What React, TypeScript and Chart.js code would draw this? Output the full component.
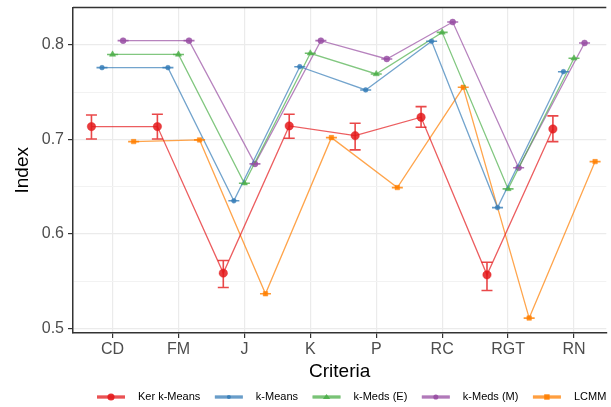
import React, { useEffect, useRef } from 'react';
import { Chart, registerables } from 'chart.js';

Chart.register(...registerables);

const FONT = '"Liberation Sans", Arial, Helvetica, sans-serif';

// ---- data ----
const categories = ['CD', 'FM', 'J', 'K', 'P', 'RC', 'RGT', 'RN'];
const seriesNames = ['Ker k-Means', 'k-Means', 'k-Meds (E)', 'k-Meds (M)', 'LCMM'];

const kerKMeans = [0.7136, 0.7136, 0.5584, 0.7143, 0.704, 0.7235, 0.5566, 0.7111];
const kerKMeansLow = [0.7005, 0.7005, 0.5432, 0.7013, 0.6889, 0.7129, 0.540, 0.6977];
const kerKMeansHigh = [0.7259, 0.7267, 0.5717, 0.7267, 0.7171, 0.7347, 0.570, 0.7249];
const kMeans = [0.776, 0.776, 0.635, 0.777, 0.7524, 0.8039, 0.6278, 0.7717];
const kMedsE = [0.790, 0.790, 0.6536, 0.7912, 0.7693, 0.8134, 0.6476, 0.7859];
const kMedsM = [0.8046, 0.8046, 0.6741, 0.8046, 0.7852, 0.8243, 0.670, 0.8021];
const lcmm = [0.6977, 0.6995, 0.5365, 0.7019, 0.649, 0.7552, 0.5108, 0.6765];

const yTicks = [0.5, 0.55, 0.6, 0.65, 0.7, 0.75, 0.8];

// ---- styling ----
const seriesValues = [kerKMeans, kMeans, kMedsE, kMedsM, lcmm];
const seriesLows = [kerKMeansLow, kMeans, kMedsE, kMedsM, lcmm];
const seriesHighs = [kerKMeansHigh, kMeans, kMedsE, kMedsM, lcmm];
const rgb = ['228,26,28', '55,126,184', '77,175,74', '152,78,163', '255,127,0'];
const pointStyles = ['circle', 'circle', 'triangle', 'circle', 'rect'];
const pointRadii = [4.2, 2.4, 3.6, 3, 3.2];
const dodge = [-0.32, -0.16, 0, 0.16, 0.32];

const isMajor = (v: number) => Math.abs(v * 10 - Math.round(v * 10)) < 1e-6;

function drawMarker(ctx: CanvasRenderingContext2D, style: string, r: number, x: number, y: number) {
  ctx.beginPath();
  if (style === 'circle') {
    ctx.arc(x, y, r, 0, Math.PI * 2);
  } else if (style === 'triangle') {
    const h = r * 1.5;
    ctx.moveTo(x, y - h * 0.66);
    ctx.lineTo(x + r * 1.2, y + h * 0.45);
    ctx.lineTo(x - r * 1.2, y + h * 0.45);
    ctx.closePath();
  } else {
    ctx.rect(x - r, y - r, r * 2, r * 2);
  }
  ctx.fill();
}

const errorBarPlugin = {
  id: 'errorBars',
  afterDatasetsDraw(chart: any) {
    const { ctx, scales } = chart;
    const xs = scales.x;
    const ys = scales.y;
    ctx.save();
    chart.data.datasets.forEach((ds: any, i: number) => {
      ctx.strokeStyle = `rgba(${rgb[i]},0.8)`;
      ctx.lineWidth = 1.6;
      ds.data.forEach((p: any, j: number) => {
        const px = xs.getPixelForValue(p.x);
        const yl = ys.getPixelForValue(seriesLows[i][j]);
        const yh = ys.getPixelForValue(seriesHighs[i][j]);
        const w = 5.5;
        ctx.beginPath();
        ctx.moveTo(px, yl);
        ctx.lineTo(px, yh);
        ctx.moveTo(px - w, yl);
        ctx.lineTo(px + w, yl);
        ctx.moveTo(px - w, yh);
        ctx.lineTo(px + w, yh);
        ctx.stroke();
      });
    });
    ctx.restore();
  },
};

const frameLegendPlugin = {
  id: 'frameLegend',
  afterDraw(chart: any) {
    const { ctx, chartArea } = chart;
    ctx.save();
    // top panel border
    ctx.strokeStyle = '#333333';
    ctx.lineWidth = 1.5;
    ctx.beginPath();
    ctx.moveTo(chartArea.left, chartArea.top);
    ctx.lineTo(chartArea.right, chartArea.top);
    ctx.stroke();

    // legend
    ctx.font = `11px ${FONT}`;
    ctx.textBaseline = 'middle';
    ctx.textAlign = 'left';
    let x = 97;
    const y = 397;
    seriesNames.forEach((name, i) => {
      ctx.strokeStyle = `rgba(${rgb[i]},0.5)`;
      ctx.lineWidth = 4;
      ctx.beginPath();
      ctx.moveTo(x, y);
      ctx.lineTo(x + 28, y);
      ctx.stroke();
      ctx.strokeStyle = `rgba(${rgb[i]},0.9)`;
      ctx.lineWidth = 1.1;
      ctx.beginPath();
      ctx.moveTo(x, y);
      ctx.lineTo(x + 28, y);
      ctx.stroke();
      ctx.fillStyle = `rgba(${rgb[i]},0.9)`;
      drawMarker(ctx, pointStyles[i], pointRadii[i] * 0.85, x + 14, y);
      ctx.fillStyle = '#000000';
      ctx.fillText(name, x + 41, y);
      x += 41 + ctx.measureText(name).width + 14.5;
    });
    ctx.restore();
  },
};

export default function App() {
  const ref = useRef<HTMLCanvasElement>(null);

  useEffect(() => {
    if (!ref.current) return;
    const datasets = seriesValues.map((vals, i) => ({
      label: seriesNames[i],
      data: vals.map((v, j) => ({ x: j + dodge[i], y: v })),
      showLine: true,
      borderColor: `rgba(${rgb[i]},0.7)`,
      borderWidth: 1.3,
      pointStyle: pointStyles[i],
      pointRadius: pointRadii[i],
      pointBackgroundColor: `rgba(${rgb[i]},0.85)`,
      pointBorderColor: `rgba(${rgb[i]},0.85)`,
      pointBorderWidth: 0.5,
    }));

    const chart = new Chart(ref.current, {
      type: 'scatter',
      data: { datasets },
      plugins: [errorBarPlugin, frameLegendPlugin],
      options: {
        animation: false,
        responsive: false,
        devicePixelRatio: 1,
        layout: { padding: { top: 7.5, right: 0, bottom: 24, left: 0 } },
        plugins: { legend: { display: false }, tooltip: { enabled: false } },
        scales: {
          x: {
            type: 'linear',
            min: -0.6,
            max: 7.49,
            afterBuildTicks: (axis: any) => {
              axis.ticks = categories.map((_, i) => ({ value: i }));
            },
            afterFit: (axis: any) => {
              axis.height = 50;
              axis.paddingLeft = 0;
              axis.paddingRight = 0;
            },
            ticks: {
              autoSkip: false,
              maxRotation: 0,
              padding: 2,
              color: '#4D4D4D',
              font: { family: FONT, size: 16 },
              callback: (v: any) => categories[Math.round(v)] ?? '',
            },
            grid: {
              color: '#EBEBEB',
              lineWidth: 1.2,
              tickLength: 5,
              tickColor: '#333333',
              tickWidth: 1.2,
            },
            border: { display: true, color: '#333333', width: 1.5 },
            title: {
              display: true,
              text: 'Criteria',
              color: '#000000',
              font: { family: FONT, size: 19 },
              padding: { top: 0, bottom: 0 },
            },
          },
          y: {
            type: 'linear',
            min: 0.495,
            max: 0.8397,
            afterBuildTicks: (axis: any) => {
              axis.ticks = yTicks.map((v) => ({ value: v }));
            },
            afterFit: (axis: any) => {
              axis.width = 73;
              axis.paddingTop = 0;
              axis.paddingBottom = 0;
            },
            ticks: {
              autoSkip: false,
              padding: 4,
              color: '#4D4D4D',
              font: { family: FONT, size: 16 },
              callback: (v: any) => (isMajor(Number(v)) ? Number(v).toFixed(1) : ''),
            },
            grid: {
              color: (c: any) => (c.tick && isMajor(c.tick.value) ? '#EBEBEB' : '#F2F2F2'),
              lineWidth: (c: any) => (c.tick && isMajor(c.tick.value) ? 1.2 : 1),
              tickLength: 5,
              tickColor: (c: any) => (c.tick && isMajor(c.tick.value) ? '#333333' : 'rgba(0,0,0,0)'),
              tickWidth: 1.2,
            },
            border: { display: true, color: '#333333', width: 1.5 },
            title: {
              display: true,
              text: 'Index',
              color: '#000000',
              font: { family: FONT, size: 19 },
              padding: { top: 11, bottom: 0 },
            },
          },
        },
      } as any,
    });
    return () => chart.destroy();
  }, []);

  return (
    <div style={{ position: 'fixed', left: 0, top: 0, width: 611, height: 407, background: '#ffffff' }}>
      <canvas ref={ref} width={611} height={407} style={{ width: 611, height: 407, display: 'block' }} />
    </div>
  );
}
